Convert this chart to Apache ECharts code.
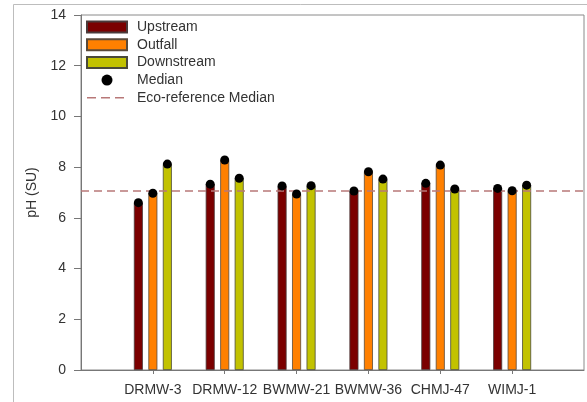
<!DOCTYPE html>
<html>
<head>
<meta charset="utf-8">
<script src="https://cdn.jsdelivr.net/npm/echarts@6/dist/echarts.min.js"></script>
<style>
html,body{margin:0;padding:0;background:#fff;}
#c{width:587px;height:402px;}
</style>
</head>
<body>
<div id="c"></div>
<script>
var categories = ['DRMW-3', 'DRMW-12', 'BWMW-21', 'BWMW-36', 'CHMJ-47', 'WIMJ-1'];
var upstream   = [6.60, 7.33, 7.26, 7.06, 7.36, 7.16];
var outfall    = [6.97, 8.28, 6.94, 7.82, 8.08, 7.07];
var downstream = [8.12, 7.56, 7.27, 7.53, 7.14, 7.29];
var ecoMedian = 7.06;
var yTicks = {min: 0, max: 14, interval: 2};

// pad with empty slots at both ends so the axis spans the full plot width
function pad(arr){ return ['-'].concat(arr).concat(['-']); }
var xCats = [''].concat(categories).concat(['']);

var font = 'Liberation Sans, Arial, sans-serif';
var off = 14.5;
var ecoColor = '#b87878';
var dashIcon = 'path://M0,0h0.01v0.01h-0.01z M0,4.8h9v1.4h-9z M14,4.8h9v1.4h-9z M28,4.8h9v1.4h-9z M39.99,10.99h0.01v0.01h-0.01z';

var chart = echarts.init(document.getElementById('c'), null, {renderer: 'canvas'});
chart.setOption({
  animation: false,
  backgroundColor: '#fff',
  graphic: [{
    type: 'polyline',
    shape: {points: [[13.5, 402], [13.5, 4.5], [587, 4.5]]},
    style: {stroke: '#bdbdbd', lineWidth: 1, fill: null},
    silent: true
  }],
  grid: {left: 81, right: 1, top: 15, bottom: 32, show: true, borderColor: '#8a8a8a', borderWidth: 1, backgroundColor: 'transparent'},
  legend: {
    orient: 'vertical', left: 81, top: 15,
    itemWidth: 40, itemHeight: 11, itemGap: 3.7,
    textStyle: {fontFamily: font, fontSize: 14, color: '#333', padding: [0, 0, 0, 5]},
    data: [
      {name: 'Upstream', icon: 'rect'}, {name: 'Outfall', icon: 'rect'}, {name: 'Downstream', icon: 'rect'},
      {name: 'Median', icon: 'circle', itemStyle: {color: '#000', opacity: 1}},
      {name: 'Eco-reference Median', icon: dashIcon, itemStyle: {color: ecoColor, borderWidth: 0}}
    ]
  },
  xAxis: {
    type: 'category', data: xCats, boundaryGap: false,
    axisLine: {lineStyle: {color: '#777', width: 1}},
    axisTick: {show: true, length: 4, inside: false, interval: function(i){ return i > 0 && i < xCats.length - 1; }, lineStyle: {color: '#777'}},
    axisLabel: {fontFamily: font, fontSize: 14, color: '#333', margin: 13, interval: 0},
    splitLine: {show: false}
  },
  yAxis: {
    type: 'value', min: yTicks.min, max: yTicks.max, interval: yTicks.interval,
    name: 'pH (SU)', nameLocation: 'middle', nameGap: 40, nameRotate: 90,
    nameTextStyle: {fontFamily: font, fontSize: 14, color: '#333'},
    axisLine: {show: true, lineStyle: {color: '#777', width: 1}},
    axisTick: {show: true, length: 7, lineStyle: {color: '#777'}},
    axisLabel: {fontFamily: font, fontSize: 14, color: '#333', margin: 15},
    splitLine: {show: false}
  },
  series: [
    {name: 'Upstream', type: 'bar', data: pad(upstream), barWidth: 9, barGap: '61%',
     itemStyle: {color: '#7b0000', borderColor: '#4a3a3a', borderWidth: 0.8}},
    {name: 'Outfall', type: 'bar', data: pad(outfall), barWidth: 9, barGap: '61%',
     itemStyle: {color: '#ff8000', borderColor: '#5a4a3a', borderWidth: 0.8}},
    {name: 'Downstream', type: 'bar', data: pad(downstream), barWidth: 9, barGap: '61%',
     itemStyle: {color: '#c2c200', borderColor: '#4a4a3a', borderWidth: 0.8}},
    {name: 'Median', type: 'scatter', data: pad(upstream), symbol: 'circle', symbolSize: 9, symbolOffset: [-off, 0], itemStyle: {color: '#000', opacity: 1}, z: 5},
    {name: 'Median', type: 'scatter', data: pad(outfall), symbol: 'circle', symbolSize: 9, symbolOffset: [0, 0], itemStyle: {color: '#000', opacity: 1}, z: 5},
    {name: 'Median', type: 'scatter', data: pad(downstream), symbol: 'circle', symbolSize: 9, symbolOffset: [off, 0], itemStyle: {color: '#000', opacity: 1}, z: 5},
    {name: 'Eco-reference Median', type: 'line', data: [], symbol: 'none',
     lineStyle: {color: ecoColor, width: 1.5, type: [8, 5]},
     itemStyle: {color: ecoColor},
     markLine: {silent: true, symbol: 'none', label: {show: false},
       lineStyle: {color: ecoColor, width: 1.5, type: [8, 5]},
       data: [{yAxis: ecoMedian}]}, z: 4}
  ]
});
</script>
</body>
</html>
